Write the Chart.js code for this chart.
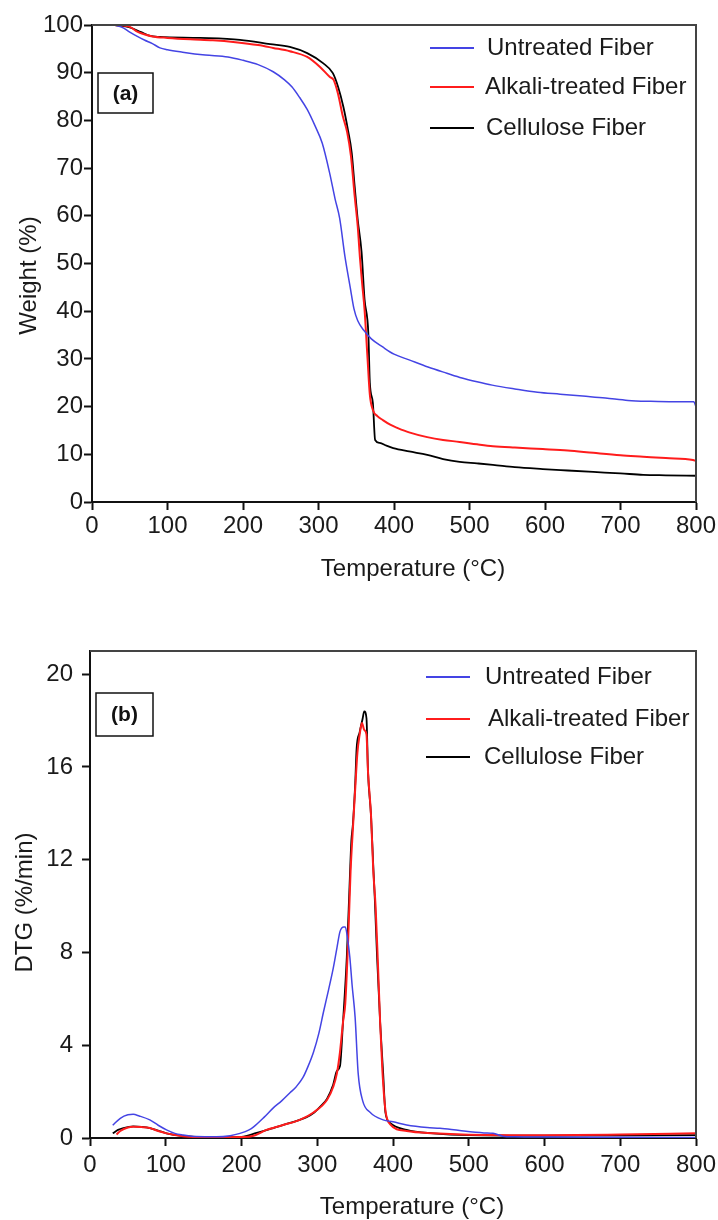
<!DOCTYPE html>
<html>
<head>
<meta charset="utf-8">
<title>TGA / DTG curves</title>
<script src="https://cdn.jsdelivr.net/npm/chart.js@4.4.1/dist/chart.umd.min.js"></script>
<style>
  html, body { margin: 0; padding: 0; background: #fff; }
  canvas { display: block; }
</style>
</head>
<body>
<canvas id="tgaChart" width="718" height="600"></canvas>
<canvas id="dtgChart" width="718" height="620"></canvas>
<script>
// legend names / colours
const seriesNames = ['Untreated Fiber', 'Alkali-treated Fiber', 'Cellulose Fiber'];
const seriesColors = ['#4444e4', '#ff1c1c', '#000000'];
const seriesWidths = [1.5, 2, 1.8];

// tick labels
const tempTicks = [0, 100, 200, 300, 400, 500, 600, 700, 800];
const weightTicks = [0, 10, 20, 30, 40, 50, 60, 70, 80, 90, 100];
const dtgTicks = [0, 4, 8, 12, 16, 20];

// (a) weight % vs temperature
const untreatedTgaT = [30, 40, 50, 60, 70, 80, 90, 100, 120, 150, 180, 200, 220, 240, 255, 265, 275, 285, 295, 305, 315, 322, 328, 335, 342, 347, 352, 360, 370, 385, 400, 420, 445, 470, 490, 510, 530, 560, 590, 620, 650, 680, 710, 740, 770, 797, 800];
const untreatedTgaW = [100, 99.5, 98.5, 97.6, 96.8, 96.1, 95.2, 94.8, 94.3, 93.7, 93.3, 92.6, 91.7, 90.2, 88.5, 87.0, 84.8, 82.3, 79.0, 75.2, 68.8, 63.5, 59.5, 51.5, 45.0, 40.5, 38.0, 36.0, 34.2, 32.5, 31.0, 29.8, 28.3, 27.0, 26.0, 25.2, 24.5, 23.7, 23.0, 22.6, 22.2, 21.8, 21.3, 21.1, 21.0, 21.0, 20.0];

const alkaliTgaT = [30, 50, 60, 70, 80, 100, 130, 160, 190, 220, 240, 262, 285, 302, 315, 320, 326, 332, 338, 343, 348, 352, 355, 358, 361, 365, 368, 372, 378, 385, 395, 405, 420, 444, 465, 487, 510, 531, 560, 597, 630, 664, 700, 730, 760, 796, 800];
const alkaliTgaW = [100, 99.6, 98.6, 98.0, 97.6, 97.3, 97.0, 96.8, 96.4, 95.8, 95.2, 94.5, 93.3, 91.2, 89.1, 88.5, 85.5, 81.0, 77.5, 72.5, 64.0, 57.7, 51.0, 45.5, 40.3, 30.0, 22.5, 19.3, 18.0, 17.2, 16.2, 15.5, 14.6, 13.6, 13.0, 12.6, 12.1, 11.7, 11.4, 11.1, 10.8, 10.3, 9.8, 9.5, 9.2, 8.8, 8.6];

const celluloseTgaT = [30, 50, 65, 77, 90, 143, 196, 236, 262, 285, 306, 319, 326, 333, 339, 344, 348, 352, 357, 361, 366, 368, 372, 375, 381, 390, 399, 420, 444, 465, 487, 510, 531, 560, 597, 630, 664, 700, 730, 760, 800];
const celluloseTgaW = [100, 99.5, 98.5, 97.7, 97.5, 97.3, 96.9, 96.0, 95.4, 94.1, 92.0, 89.9, 87.0, 82.8, 78.0, 73.2, 66.0, 59.1, 52.5, 42.5, 35.4, 25.0, 20.8, 13.0, 12.4, 11.8, 11.3, 10.6, 9.9, 9.0, 8.4, 8.1, 7.8, 7.3, 6.9, 6.6, 6.3, 6.0, 5.7, 5.6, 5.5];

// (b) DTG vs temperature
const untreatedDtgT = [30, 40, 50, 57, 65, 79, 90, 101, 112, 123, 140, 167, 185, 198, 210, 216, 230, 242, 253, 264, 272, 281, 288, 295, 302, 308, 315, 321, 326, 330, 335, 337, 340, 343, 346, 350, 354, 360, 370, 387, 400, 418, 445, 462, 488, 520, 532, 545, 560, 600, 700, 800];
const untreatedDtgV = [0.55, 0.85, 1.0, 1.02, 0.95, 0.78, 0.55, 0.35, 0.2, 0.13, 0.06, 0.05, 0.1, 0.2, 0.35, 0.48, 0.9, 1.3, 1.6, 1.95, 2.2, 2.6, 3.1, 3.7, 4.5, 5.4, 6.4, 7.3, 8.2, 8.9, 9.1, 9.1, 8.6, 7.8, 6.6, 5.2, 2.8, 1.6, 1.1, 0.78, 0.7, 0.56, 0.45, 0.42, 0.32, 0.22, 0.2, 0.08, 0.05, 0.04, 0.03, 0.02];

const alkaliDtgT = [35, 40, 50, 57, 68, 79, 90, 101, 123, 150, 200, 216, 233, 255, 277, 295, 313, 321, 326, 330, 334, 337, 341, 344, 347, 350, 353, 356, 359, 362, 365, 367, 371, 374, 377, 380, 383, 386, 390, 396, 418, 453, 500, 600, 700, 800];
const alkaliDtgV = [0.15, 0.3, 0.45, 0.48, 0.47, 0.43, 0.3, 0.2, 0.08, 0.03, 0.04, 0.1, 0.35, 0.56, 0.78, 1.1, 1.65, 2.2, 2.8, 3.7, 5.0, 5.8, 8.7, 11.5, 13.3, 15.0, 16.6, 17.4, 17.9, 17.6, 17.4, 15.8, 13.9, 11.5, 10.0, 7.6, 5.0, 2.9, 1.2, 0.6, 0.3, 0.2, 0.14, 0.12, 0.15, 0.2];

const celluloseDtgT = [30, 37, 44, 57, 68, 79, 90, 101, 119, 140, 180, 200, 220, 242, 264, 286, 296, 304, 313, 321, 326, 330, 334, 339, 343, 345, 347, 350, 352, 356, 360, 362, 365, 367, 371, 374, 376, 379, 383, 387, 390, 396, 418, 453, 500, 600, 800];
const celluloseDtgV = [0.2, 0.35, 0.43, 0.5, 0.48, 0.43, 0.32, 0.2, 0.1, 0.05, 0.04, 0.05, 0.22, 0.43, 0.65, 0.9, 1.1, 1.35, 1.7, 2.3, 2.9, 3.1, 5.0, 7.8, 11.2, 12.8, 13.5, 15.2, 16.8, 17.5, 18.1, 18.4, 18.1, 15.8, 13.9, 11.7, 10.3, 7.8, 5.0, 2.8, 1.1, 0.65, 0.35, 0.2, 0.12, 0.1, 0.12];

const FONT = "'Liberation Sans', Arial, sans-serif";
const TEXT = '#1a1a1a';
const FSIZE = 24;

function pts(xs, ys) {
    return xs.map((x, i) => ({ x, y: ys[i] }));
}

function makeDatasets(groups) {
    return groups.map((g, i) => ({
        label: seriesNames[i],
        data: pts(g[0], g[1]),
        borderColor: seriesColors[i],
        backgroundColor: seriesColors[i],
        borderWidth: seriesWidths[i],
        pointRadius: 0,
        cubicInterpolationMode: 'monotone',
        fill: false,
    }));
}

// frame, panel tag, legend and axis titles drawn on top
const decor = {
    id: 'decor',
    afterDraw(chart, args, o) {
        const { ctx, chartArea: a } = chart;
        ctx.save();

        // top / right frame
        ctx.strokeStyle = '#444';
        ctx.lineWidth = 2;
        ctx.beginPath();
        ctx.moveTo(a.left, a.top);
        ctx.lineTo(a.right, a.top);
        ctx.lineTo(a.right, a.bottom);
        ctx.stroke();

        // (a) / (b) box
        const t = o.tag;
        ctx.lineWidth = 1.5;
        ctx.strokeStyle = '#111';
        ctx.strokeRect(a.left + t.dx, a.top + t.dy, t.w, t.h);
        ctx.fillStyle = '#111';
        ctx.font = 'bold 21px ' + FONT;
        ctx.textAlign = 'center';
        ctx.textBaseline = 'middle';
        ctx.fillText(t.text, a.left + t.dx + t.w / 2, a.top + t.dy + t.h / 2 + 1);

        // legend
        const lg = o.legend;
        ctx.font = FSIZE + 'px ' + FONT;
        ctx.textAlign = 'left';
        chart.data.datasets.forEach((ds, i) => {
            const y = a.top + lg.rows[i];
            const x = a.left + lg.dx[i];
            ctx.strokeStyle = ds.borderColor;
            ctx.lineWidth = 2;
            ctx.beginPath();
            ctx.moveTo(x, y);
            ctx.lineTo(x + 44, y);
            ctx.stroke();
            ctx.fillStyle = TEXT;
            ctx.fillText(ds.label, x + lg.gap[i], y);
        });

        // axis titles
        ctx.fillStyle = TEXT;
        ctx.textAlign = 'center';
        ctx.fillText(o.xTitle.text, (a.left + a.right) / 2 + o.xTitle.dx, a.bottom + o.xTitle.dy);
        ctx.translate(o.yTitle.x, (a.top + a.bottom) / 2 + o.yTitle.dy);
        ctx.rotate(-Math.PI / 2);
        ctx.fillText(o.yTitle.text, 0, 0);

        ctx.restore();
    }
};

function axis(min, max, ticks, size, pad) {
    return {
        type: 'linear',
        min, max,
        afterBuildTicks: s => { s.ticks = ticks.map(v => ({ value: v })); },
        afterFit: s => {
            if (s.isHorizontal()) {
                s.height = size;
                s.paddingLeft = 0;
                s.paddingRight = 0;
            } else {
                s.width = size;
                s.paddingTop = 0;
                s.paddingBottom = 0;
            }
        },
        ticks: { color: TEXT, font: { size: FSIZE, family: FONT }, padding: pad, maxRotation: 0, autoSkip: false },
        grid: { display: true, drawOnChartArea: false, drawTicks: true, tickLength: 8, tickWidth: 2, tickColor: '#111' },
        border: { display: true, color: '#111', width: 2 },
    };
}

Chart.defaults.font.family = FONT;

new Chart(document.getElementById('tgaChart'), {
    type: 'line',
    data: {
        datasets: makeDatasets([
            [untreatedTgaT, untreatedTgaW],
            [alkaliTgaT, alkaliTgaW],
            [celluloseTgaT, celluloseTgaW],
        ]),
    },
    options: {
        responsive: false,
        animation: false,
        devicePixelRatio: 1,
        layout: { padding: { left: 0, right: 22, top: 25, bottom: 0 } },
        scales: {
            x: axis(0, 800, tempTicks, 98, 2),
            y: axis(0, 100, weightTicks, 92, 1),
        },
        plugins: {
            legend: { display: false },
            tooltip: { enabled: false },
            decor: {
                tag: { text: '(a)', dx: 6, dy: 48, w: 55, h: 40 },
                legend: { rows: [23, 62, 103], dx: [338, 338, 338], gap: [57, 55, 56] },
                xTitle: { text: 'Temperature (°C)', dx: 19, dy: 67 },
                yTitle: { text: 'Weight (%)', x: 29, dy: 12 },
            },
        },
    },
    plugins: [decor],
});

new Chart(document.getElementById('dtgChart'), {
    type: 'line',
    data: {
        datasets: makeDatasets([
            [untreatedDtgT, untreatedDtgV],
            [alkaliDtgT, alkaliDtgV],
            [celluloseDtgT, celluloseDtgV],
        ]),
    },
    options: {
        responsive: false,
        animation: false,
        devicePixelRatio: 1,
        layout: { padding: { left: 0, right: 22, top: 51, bottom: 0 } },
        scales: {
            x: axis(0, 800, tempTicks, 82, 5),
            y: axis(0, 21, dtgTicks, 90, 9),
        },
        plugins: {
            legend: { display: false },
            tooltip: { enabled: false },
            decor: {
                tag: { text: '(b)', dx: 6, dy: 42, w: 57, h: 43 },
                legend: { rows: [26, 68, 106], dx: [336, 336, 336], gap: [59, 62, 58] },
                xTitle: { text: 'Temperature (°C)', dx: 19, dy: 69 },
                yTitle: { text: 'DTG (%/min)', x: 25, dy: 8 },
            },
        },
    },
    plugins: [decor],
});
</script>
</body>
</html>
